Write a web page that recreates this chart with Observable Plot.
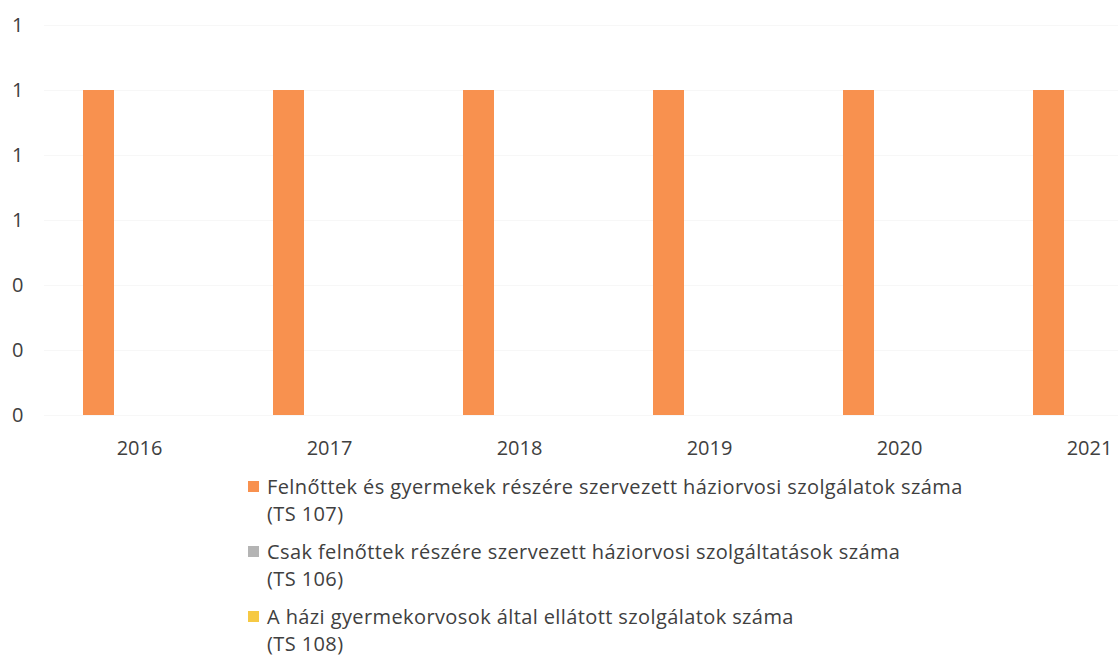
<!DOCTYPE html>
<html>
<head>
<meta charset="utf-8">
<script src="https://cdn.jsdelivr.net/npm/d3@7"></script>
<script src="https://cdn.jsdelivr.net/npm/@observablehq/plot@0.6"></script>
<style>
  html, body { margin: 0; padding: 0; background: #fff; overflow: hidden; width: 1118px; height: 656px; }
  #wrap { position: relative; width: 1118px; height: 656px; overflow: hidden; }
  #chart { position: absolute; left: 0; top: 0; width: 1200px; }
  #chart svg { max-width: none !important; }
  .leg { position: absolute; left: 248px; font-family: "Open Sans", sans-serif; font-size: 20px; letter-spacing: 0.4px; line-height: 27px; color: #404040; }
  .leg .sw { position: absolute; left: 0; top: 8px; width: 11px; height: 11px; }
  .leg .tx { position: absolute; left: 19px; top: 0; white-space: nowrap; }
</style>
</head>
<body>
<div id="wrap"><div id="chart"></div></div>
<script>
const years = ["2016", "2017", "2018", "2019", "2020", "2021"];
const seriesNames = [
  "Felnőttek és gyermekek részére szervezett háziorvosi szolgálatok száma (TS 107)",
  "Csak felnőttek részére szervezett háziorvosi szolgáltatások száma (TS 106)",
  "A házi gyermekorvosok által ellátott szolgálatok száma (TS 108)"
];
const legendLines = [
  ["Felnőttek és gyermekek részére szervezett háziorvosi szolgálatok száma", "(TS 107)"],
  ["Csak felnőttek részére szervezett háziorvosi szolgáltatások száma", "(TS 106)"],
  ["A házi gyermekorvosok által ellátott szolgálatok száma", "(TS 108)"]
];
const seriesColors = ["#f8914f", "#b4b4b4", "#f6c944"];
const ts107 = [1, 1, 1, 1, 1, 1];
const ts106 = [0, 0, 0, 0, 0, 0];
const ts108 = [0, 0, 0, 0, 0, 0];
const yTicks = [0, 0.2, 0.4, 0.6, 0.8, 1.0, 1.2];

const seriesValues = [ts107, ts106, ts108];
const data = [];
years.forEach((yr, i) => {
  seriesNames.forEach((s, j) => data.push({year: yr, series: s, value: seriesValues[j][i]}));
});

const chart = Plot.plot({
  width: 1200,
  height: 460,
  marginLeft: 44,
  marginRight: 16,
  marginTop: 25,
  marginBottom: 45,
  style: {fontFamily: "'Open Sans', sans-serif", fontSize: "20px", color: "#404040", background: "#fff", maxWidth: "none", overflow: "visible"},
  fx: {domain: years, padding: 0, label: null, axis: "bottom", tickSize: 0, tickPadding: 25},
  x: {domain: seriesNames, paddingInner: 0.22, paddingOuter: 0.93, axis: null},
  y: {domain: [0, 1.2], ticks: yTicks, tickFormat: d3.format(".0f"), label: null, tickSize: 0, tickPadding: 21},
  color: {domain: seriesNames, range: seriesColors},
  marks: [
    Plot.ruleY(yTicks, {stroke: "#f7f7f7", strokeWidth: 1}),
    Plot.barY(data, {fx: "year", x: "series", y: "value", fill: "series"})
  ]
});
document.getElementById("chart").appendChild(chart);

const wrap = document.getElementById("wrap");
legendLines.forEach((lines, i) => {
  const item = document.createElement("div");
  item.className = "leg";
  item.style.top = (473 + i * 65) + "px";
  const sw = document.createElement("div");
  sw.className = "sw";
  sw.style.background = seriesColors[i];
  item.appendChild(sw);
  const tx = document.createElement("div");
  tx.className = "tx";
  tx.innerHTML = lines.map(l => l.replace(/&/g, "&amp;")).join("<br>");
  item.appendChild(tx);
  wrap.appendChild(item);
});
</script>
</body>
</html>
